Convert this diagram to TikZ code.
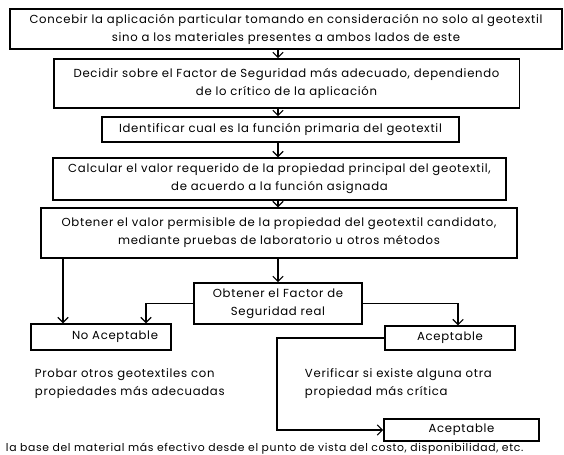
\documentclass[tikz,border=0pt]{standalone}
\usepackage{fontspec}
\setmainfont{Poppins}[LetterSpace=6]
\usetikzlibrary{arrows.meta,positioning}

\begin{document}
\begin{tikzpicture}[
        x=0.025cm,
        y=-0.025cm,
        stepbox/.style={draw, line width=0.95pt, align=center, inner sep=0pt,
            font=\fontsize{8.3}{12.8}\selectfont},
        flowarrow/.style={-{Straight Barb[length=1.3mm, width=2.6mm]}, line width=0.8pt},
        note/.style={align=left, anchor=west, font=\fontsize{8.3}{12.8}\selectfont}
    ]
        \useasboundingbox (0,0) rectangle (564,454);

        \node[stepbox, minimum width=13.8cm, minimum height=1.0cm] (concebir) at (286,29)
            {Concebir la aplicación particular tomando en consideración no solo al geotextil\\
             sino a los materiales presentes a ambos lados de este};
        \node[stepbox, minimum width=11.63cm, minimum height=1.23cm] (decidir) at (286.5,83.5)
            {Decidir sobre el Factor de Seguridad más adecuado, dependiendo\\
             de lo crítico de la aplicación};
        \node[stepbox, minimum width=8.93cm, minimum height=0.63cm] (identificar) at (280.5,129.5)
            {Identificar cual es la función primaria del geotextil};
        \node[stepbox, minimum width=11.33cm, minimum height=1.05cm] (calcular) at (279.5,179)
            {Calcular el valor requerido de la propiedad principal del geotextil,\\
             de acuerdo a la función asignada};
        \node[stepbox, minimum width=11.9cm, minimum height=1.25cm] (permisible) at (279,233)
            {Obtener el valor permisible de la propiedad del geotextil candidato,\\
             mediante pruebas de laboratorio u otros métodos};
        \node[stepbox, minimum width=4.2cm, minimum height=1.03cm] (factor) at (278,303.5)
            {Obtener el Factor de\\Seguridad real};
        \node[stepbox, minimum width=3.5cm, minimum height=0.65cm] (noacept) at (101,337)
            {\hspace*{0.7cm}No Aceptable};
        \node[stepbox, minimum width=3.25cm, minimum height=0.6cm] (aceptuno) at (450,338)
            {Aceptable};
        \node[stepbox, minimum width=3.88cm, minimum height=0.55cm] (aceptdos) at (461.5,430)
            {Aceptable};

        \node[note] (probar) at (30,384)
            {Probar otros geotextiles con\\propiedades más adecuadas};
        \node[note] (verificar) at (300,384)
            {Verificar si existe alguna otra\\propiedad más crítica};
        \node[note, font=\fontsize{7.7}{8}\selectfont] (base) at (1,449)
            {la base del material más efectivo desde el punto de vista del costo, disponibilidad, etc.};

        \coordinate (lado) at (63,0);
        \coordinate (izq) at (146,0);
        \coordinate (der) at (458,0);
        \coordinate (baja) at (277,390);

        \draw[flowarrow] (concebir.south -| factor) -- (decidir.north -| factor);
        \draw[flowarrow] (decidir.south -| factor) -- (identificar.north -| factor);
        \draw[flowarrow] (identificar.south -| factor) -- (calcular.north -| factor);
        \draw[flowarrow] (calcular.south -| factor) -- (permisible.north -| factor);
        \draw[flowarrow] (permisible.south -| factor) -- (factor.north);

        \draw[flowarrow] (permisible.south -| lado) -- (noacept.north -| lado);
        \draw[flowarrow] (factor.west) -| (noacept.north -| izq);
        \draw[flowarrow] (factor.east) -| (aceptuno.north -| der);
        \draw[flowarrow] (aceptuno.west) -| (baja) |- (aceptdos.west);
    \end{tikzpicture}
\end{document}
